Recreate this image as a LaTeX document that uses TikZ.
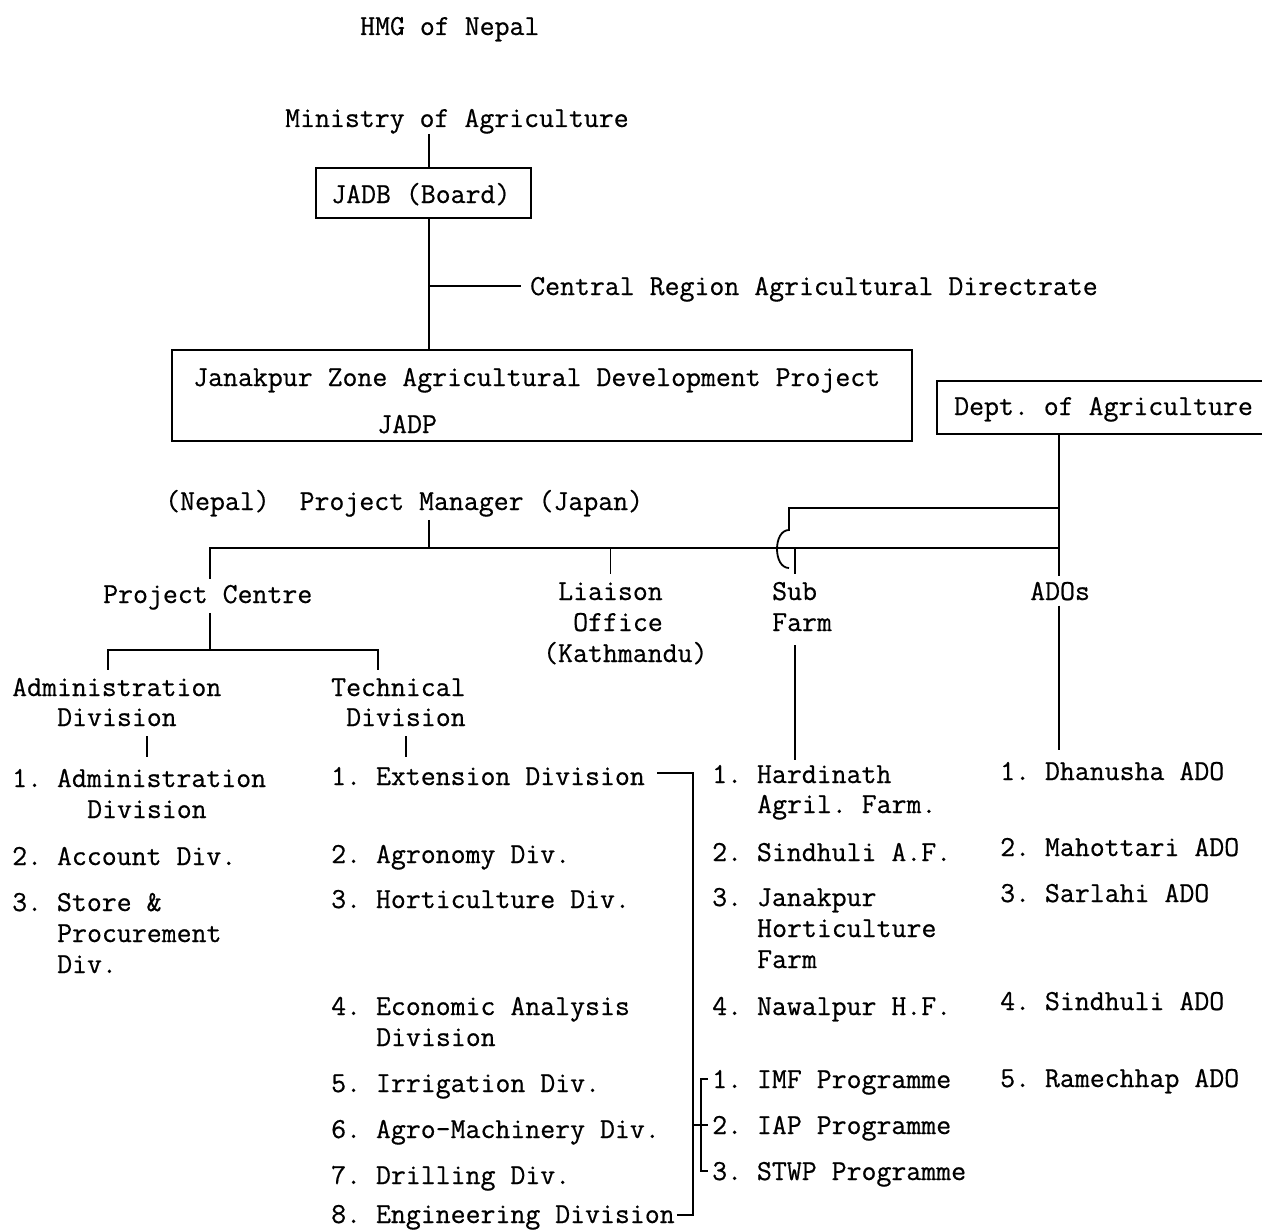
\documentclass[tikz,border=0pt]{standalone}
\usepackage{fontspec}
\newfontfamily\twfont[FakeBold=0.6]{Latin Modern Mono}
\begin{document}
\frenchspacing
\begin{tikzpicture}[x=1pt,y=-1pt,
  t/.style={anchor=base west,inner sep=0pt,font=\twfont\fontsize{29}{31}\selectfont\frenchspacing},
  ln/.style={line width=1.8pt},
  boxnode/.style={draw,line width=1.8pt,inner sep=0pt}]
\useasboundingbox (0,0) rectangle (1262,1231);
\clip (0,0) rectangle (1262,1231);
% x positions of vertical connectors
\coordinate (trunk) at (429,0);
\coordinate (subx) at (795,0);
\coordinate (hopx) at (789,0);
\coordinate (admx) at (147,0);
\coordinate (tecx) at (406,0);
\coordinate (brx) at (693,0);
\coordinate (ibx) at (701,0);
% buses
\coordinate (bL) at (210,548);
\coordinate (bR) at (1059,548);
\coordinate (uY) at (0,508);
\coordinate (abL) at (108,650);
\coordinate (abR) at (378,650);

% top part
\node[t] (hmg) at (360,35) {HMG of Nepal};
\node[t] (min) at (285,127) {Ministry of Agriculture};
\node[boxnode,minimum width=215pt,minimum height=50pt] (jadb) at (423.5,193) {};
\node[t] (jadbt) at (331,203) {JADB (Board)};
\node[t] (crad) at (530,295) {Central Region Agricultural Directrate};
\node[boxnode,minimum width=740pt,minimum height=91pt] (jadp) at (542,395.5) {};
\node[t] (jzt) at (193,386) {Janakpur Zone Agricultural Development Project};
\node[t] (jadpt) at (377,433) {JADP};
\node[boxnode,minimum width=345pt,minimum height=53pt] (dept) at (1109.5,407.5) {};
\node[t] (deptt) at (954,415) {Dept. of Agriculture};
\node[t] (pm) at (165,510) {(Nepal)\ \ Project Manager (Japan)};

% second level
\node[t] (pc) at (103,603) {Project Centre};
\node[t] (lia1) at (558,600) {Liaison};
\node[t] (lia2) at (573,631) {Office};
\node[t] (lia3) at (543,662) {(Kathmandu)};
\node[t] (sub1) at (772,600) {Sub};
\node[t] (sub2) at (772,631) {Farm};
\node[t] (ados) at (1030,600) {ADOs};
\node[t] (adm1) at (12,696) {Administration};
\node[t] (adm2) at (57,726) {Division};
\node[t] (tec1) at (331,696) {Technical};
\node[t] (tec2) at (346,726) {Division};

% administration list
\node[t] (a1) at (12,787) {1. Administration};
\node[t] (a1b) at (87,818) {Division};
\node[t] (a2) at (12,865) {2. Account Div.};
\node[t] (a3) at (12,911) {3. Store \&};
\node[t] (a3b) at (57,942) {Procurement};
\node[t] (a3c) at (57,973) {Div.};

% technical list
\node[t] (m1) at (331,785) {1. Extension Division};
\node[t] (m2) at (331,863) {2. Agronomy Div.};
\node[t] (m3) at (331,908) {3. Horticulture Div.};
\node[t] (m4) at (331,1015) {4. Economic Analysis};
\node[t] (m4b) at (376,1046) {Division};
\node[t] (m5) at (331,1092) {5. Irrigation Div.};
\node[t] (m6) at (331,1138) {6. Agro-Machinery Div.};
\node[t] (m7) at (331,1184) {7. Drilling Div.};
\node[t] (m8) at (331,1223) {8. Engineering Division};

% sub farm list
\node[t] (s1) at (712,783) {1. Hardinath};
\node[t] (s1b) at (757,813) {Agril. Farm.};
\node[t] (s2) at (712,861) {2. Sindhuli A.F.};
\node[t] (s3) at (712,906) {3. Janakpur};
\node[t] (s3b) at (757,937) {Horticulture};
\node[t] (s3c) at (757,968) {Farm};
\node[t] (s4) at (712,1015) {4. Nawalpur H.F.};
\node[t] (p1) at (712,1088) {1. IMF Programme};
\node[t] (p2) at (712,1134) {2. IAP Programme};
\node[t] (p3) at (712,1180) {3. STWP Programme};

% ADO list
\node[t] (d1) at (1000,780) {1. Dhanusha ADO};
\node[t] (d2) at (1000,856) {2. Mahottari ADO};
\node[t] (d3) at (1000,902) {3. Sarlahi ADO};
\node[t] (d4) at (1000,1010) {4. Sindhuli ADO};
\node[t] (d5) at (1000,1087) {5. Ramechhap ADO};

% connectors
\draw[ln] (min.south -| trunk) -- (jadb.north -| trunk);
\draw[ln] (jadb.south -| trunk) -- (jadp.north -| trunk);
\draw[ln] ([yshift=3pt]trunk |- crad.west) -- ([xshift=-9pt,yshift=3pt]crad.west);
\draw[ln] ([yshift=-3pt]trunk |- pm.south) -- (trunk |- bL);
\draw[ln] ([yshift=6pt]pc.north -| bL) -- (bL) -- (bR);
\draw[ln] (bL -| lia1.north) -- ([yshift=8pt]lia1.north);
\draw[ln] (bL -| subx) -- ([yshift=8pt]sub1.north -| subx);
\draw[ln] (dept.south -| bR) -- ([yshift=6pt]ados.north -| bR);
% Dept of Agriculture to Sub Farm, hopping over the bus
\draw[ln] (bR |- uY) -- (hopx |- uY) -- ([yshift=-22pt]hopx |- uY)
  .. controls ([xshift=-16pt,yshift=-22pt]hopx |- uY) and ([xshift=-16pt,yshift=-60pt]hopx |- uY)
  .. ([yshift=-60pt]hopx |- uY);
% project centre to divisions
\draw[ln] ([yshift=-3pt]pc.south -| bL) -- (bL |- abL);
\draw[ln] ([yshift=8pt]adm1.north -| abL) -- (abL) -- (abR) -- ([yshift=8pt]tec1.north -| abR);
\draw[ln] ([yshift=-10pt]adm2.south -| admx) -- ([yshift=12pt]a1.north -| admx);
\draw[ln] ([yshift=-10pt]tec2.south -| tecx) -- ([yshift=10pt]m1.north -| tecx);
% sub farm and ADOs down
\draw[ln] ([yshift=-14pt]sub2.south -| subx) -- ([yshift=5pt]s1.north -| subx);
\draw[ln] ([yshift=-5pt]ados.south -| bR) -- ([yshift=12pt]d1.north -| bR);
% extension bracket
\draw[ln] ([xshift=12pt,yshift=12pt]m1.base east) -- ([yshift=12pt]m1.base east -| brx)
  -- ([yshift=8pt]m8.base east -| brx) -- ([xshift=2pt,yshift=8pt]m8.base east);
% programme bracket
\draw[ln] ([xshift=-4pt,yshift=9pt]p1.base west) -- ([yshift=9pt]p1.base west -| ibx)
  -- ([yshift=9pt]p3.base west -| ibx) -- ([xshift=-4pt,yshift=9pt]p3.base west);
\draw[ln] ([yshift=9pt]p2.base west -| brx) -- ([xshift=-4pt,yshift=9pt]p2.base west);
\end{tikzpicture}
\end{document}
